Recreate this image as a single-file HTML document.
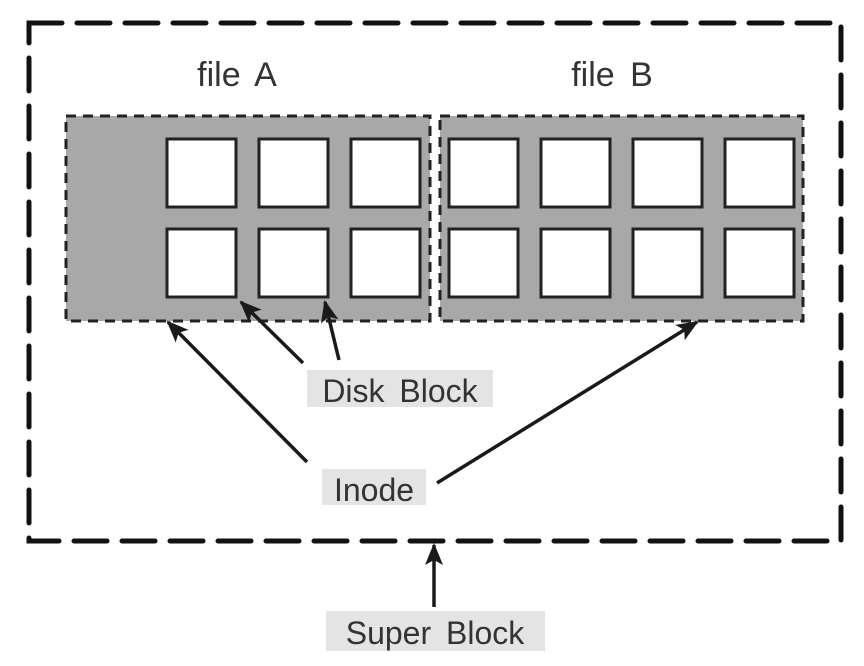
<!DOCTYPE html>
<html><head><meta charset="utf-8"><style>
html,body{margin:0;padding:0;background:#fff;}
svg{display:block;}
text{font-family:"Liberation Sans","NanumGothic",sans-serif;fill:#333;}
</style></head><body>
<svg width="864" height="666" viewBox="0 0 864 666" xmlns="http://www.w3.org/2000/svg">
<defs>
<marker id="ah" markerWidth="10" markerHeight="10" refX="9" refY="5" orient="auto" markerUnits="userSpaceOnUse" viewBox="0 0 10 10">
<path d="M0,0 L10,5 L0,10 L3,5 z" fill="#1a1a1a"/>
</marker>
<marker id="ah2" markerWidth="22" markerHeight="18" refX="20" refY="9" orient="auto" markerUnits="userSpaceOnUse">
<path d="M0,0 L22,9 L0,18 L5,9 z" fill="#1a1a1a"/>
</marker>
</defs>
<rect x="29" y="23" width="812" height="518" fill="none" stroke="#111" stroke-width="5" stroke-dasharray="33,15" stroke-linecap="round"/>
<text x="237" y="86" font-size="34" text-anchor="middle" word-spacing="6">file A</text>
<text x="612" y="86" font-size="34" text-anchor="middle" word-spacing="6">file B</text>
<rect x="66" y="116" width="364" height="205" fill="#a8a8a8" stroke="#222" stroke-width="3" stroke-dasharray="10,7"/>
<rect x="440" y="116" width="363" height="205" fill="#a8a8a8" stroke="#222" stroke-width="3" stroke-dasharray="10,7"/>
<g fill="#fff" stroke="#222" stroke-width="3">
<rect x="167" y="139" width="69" height="68"/><rect x="259" y="139" width="69" height="68"/><rect x="351" y="139" width="69" height="68"/>
<rect x="167" y="229" width="69" height="68"/><rect x="259" y="229" width="69" height="68"/><rect x="351" y="229" width="69" height="68"/>
<rect x="449" y="139" width="69" height="68"/><rect x="541" y="139" width="69" height="68"/><rect x="633" y="139" width="69" height="68"/><rect x="725" y="139" width="69" height="68"/>
<rect x="449" y="229" width="69" height="68"/><rect x="541" y="229" width="69" height="68"/><rect x="633" y="229" width="69" height="68"/><rect x="725" y="229" width="69" height="68"/>
</g>
<g stroke="#1a1a1a" stroke-width="3.5" fill="none" marker-end="url(#ah2)">
<line x1="303" y1="363" x2="241" y2="302"/>
<line x1="339" y1="360" x2="325" y2="302"/>
<line x1="307" y1="462" x2="168" y2="322"/>
<line x1="437" y1="483" x2="697" y2="322"/>
<line x1="434" y1="607" x2="434" y2="545"/>
</g>
<rect x="307" y="370" width="186" height="37" fill="#e4e4e4"/>
<text x="400" y="402" font-size="32" text-anchor="middle" word-spacing="6">Disk Block</text>
<rect x="322" y="469" width="104" height="36" fill="#e4e4e4"/>
<text x="374" y="501" font-size="32" text-anchor="middle">Inode</text>
<rect x="326" y="611" width="219" height="40" fill="#e4e4e4"/>
<text x="435" y="644" font-size="32" text-anchor="middle" word-spacing="6">Super Block</text>
</svg>
</body></html>
